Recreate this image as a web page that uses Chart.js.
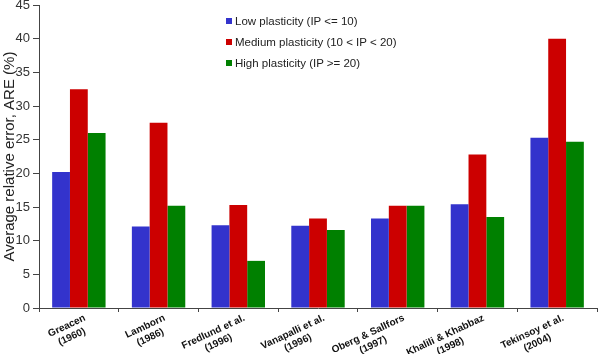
<!DOCTYPE html>
<html>
<head>
<meta charset="utf-8">
<script src="https://cdn.jsdelivr.net/npm/chart.js@4"></script>
<style>
  body { margin: 0; background: #fff; }
  #wrap { position: relative; width: 600px; height: 354px; }
  #legend { position: absolute; left: 226px; top: 13px; font: 11.5px "Liberation Sans", Arial, sans-serif; color: #222; }
  #legend div { height: 21px; line-height: 16px; white-space: nowrap; }
  #legend span { display: inline-block; width: 6px; height: 6px; margin-right: 3px; vertical-align: 1px; }
</style>
</head>
<body>
<div id="wrap">
  <canvas id="areChart" width="600" height="354"></canvas>
  <div id="legend"></div>
</div>
<script>
const categories = [
    ['Greacen', '(1960)'],
    ['Lamborn', '(1986)'],
    ['Fredlund et al.', '(1996)'],
    ['Vanapalli et al.', '(1996)'],
    ['Oberg & Sallfors', '(1997)'],
    ['Khalili & Khabbaz', '(1998)'],
    ['Tekinsoy et al.', '(2004)']
];
const lowPlasticity = [20.2, 12.1, 12.3, 12.2, 13.3, 15.4, 25.3];
const mediumPlasticity = [32.5, 27.5, 15.3, 13.3, 15.2, 22.8, 40.0];
const highPlasticity = [26.0, 15.2, 7.0, 11.6, 15.2, 13.5, 24.7];
const seriesNames = ['Low plasticity (IP <= 10)', 'Medium plasticity (10 < IP < 20)', 'High plasticity (IP >= 20)'];
const seriesColors = ['#3333CC', '#CC0000', '#008000'];

const font = '"Liberation Sans", Arial, sans-serif';

// rotated, centred two-line category labels (Chart.js right-aligns rotated ticks)
const categoryLabels = {
    id: 'categoryLabels',
    afterDraw(chart) {
        const c = chart.ctx;
        const xs = chart.scales.x;
        const top = xs.top + 5;
        c.save();
        c.font = 'bold 10px ' + font;
        c.fillStyle = '#111';
        c.textAlign = 'center';
        c.textBaseline = 'top';
        chart.data.labels.forEach((lines, i) => {
            const x = xs.getPixelForValue(i) + 4;
            const w = Math.max(...lines.map(l => c.measureText(l).width));
            c.save();
            c.translate(x, top);
            c.rotate(-25 * Math.PI / 180);
            lines.forEach((l, j) => c.fillText(l, -w / 2, j * 12));
            c.restore();
        });
        c.restore();
    }
};

const ctx = document.getElementById('areChart').getContext('2d');
const chart = new Chart(ctx, {
    type: 'bar',
    data: {
        labels: categories,
        datasets: [lowPlasticity, mediumPlasticity, highPlasticity].map((d, i) => ({
            label: seriesNames[i],
            data: d,
            backgroundColor: seriesColors[i],
            borderWidth: 0,
            categoryPercentage: 0.67,
            barPercentage: 1.0
        }))
    },
    options: {
        responsive: false,
        devicePixelRatio: 1,
        animation: false,
        layout: { padding: { left: 1, right: 3, top: 5, bottom: 0 } },
        plugins: {
            legend: { display: false },
            tooltip: { enabled: false }
        },
        scales: {
            x: {
                border: { color: '#444', width: 1 },
                grid: { drawOnChartArea: false, tickLength: 4, color: '#444', offset: true },
                ticks: { display: false },
                afterFit: scale => { scale.height = 46; }
            },
            y: {
                min: 0,
                max: 45,
                border: { color: '#444', width: 1 },
                grid: { drawOnChartArea: false, tickLength: 6, color: '#444' },
                ticks: {
                    stepSize: 5,
                    color: '#333',
                    padding: 3,
                    font: { family: font, size: 13 }
                },
                title: {
                    display: true,
                    text: 'Average relative error, ARE (%)',
                    color: '#222',
                    padding: 0,
                    font: { family: font, size: 15 }
                },
                afterFit: scale => { scale.width = 38; scale.paddingTop = 0; scale.paddingBottom = 0; }
            }
        }
    },
    plugins: [categoryLabels]
});

const legendEl = document.getElementById('legend');
seriesNames.forEach((name, i) => {
    const row = document.createElement('div');
    const box = document.createElement('span');
    box.style.background = seriesColors[i];
    row.appendChild(box);
    row.appendChild(document.createTextNode(name));
    legendEl.appendChild(row);
});
</script>
</body>
</html>
